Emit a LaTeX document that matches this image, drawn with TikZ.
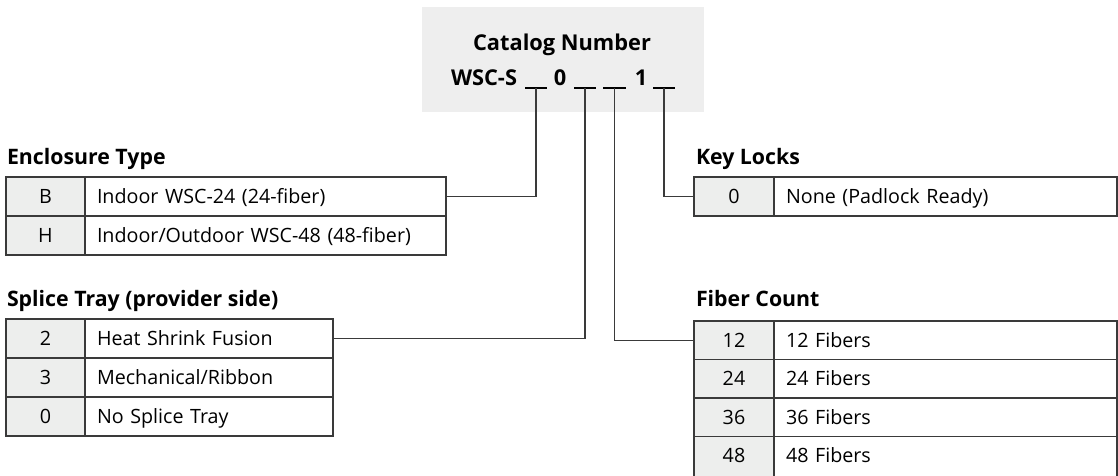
\documentclass[tikz,border=0pt]{standalone}
\usepackage{fontspec}
\setmainfont{Open Sans}
\definecolor{linecol}{HTML}{3A3A3A}
\definecolor{keyfill}{HTML}{EDEEED}
\definecolor{boxfill}{HTML}{EEEEEE}
\begin{document}
\begin{tikzpicture}[x=1pt,y=-1pt,
  every node/.style={inner sep=0pt, outer sep=0pt, font=\fontsize{19.7}{22}\selectfont},
  cell/.style={draw=linecol, line width=1.3pt, anchor=north west, minimum height=39pt,
    text height=14pt, text depth=0pt},
  keycell/.style={cell, fill=keyfill, minimum width=79pt, align=center},
  desccell/.style={cell, fill=white, inner xsep=12pt, align=left},
  ttl/.style={anchor=base west, font=\fontsize{21.3}{24}\selectfont\bfseries},
  catbox/.style={fill=boxfill, minimum width=282pt, minimum height=105pt},
  boldtxt/.style={font=\fontsize{21.8}{24}\selectfont\bfseries},
  conn/.style={draw=linecol, line width=1.3pt},
  uline/.style={draw=black, line width=1.3pt}
]
\useasboundingbox (0,0) rectangle (1118,475);

% catalog number box
\node[catbox] (cat) at (563,59.5) {};
\node[boldtxt, anchor=base] (catT) at (562,50) {Catalog Number};
\node[boldtxt, anchor=base east] (wsc) at (517,85) {WSC-S};
\node[boldtxt, anchor=base] (z0) at (560,85) {0};
\node[boldtxt, anchor=base] (z1) at (641,85) {1};
\coordinate (b1) at (536,88);
\coordinate (b2) at (585,88);
\coordinate (b3) at (614.5,88);
\coordinate (b4) at (664,88);
\draw[uline] (525,88) -- (547,88);
\draw[uline] (574,88) -- (596,88);
\draw[uline] (603,88) -- (626,88);
\draw[uline] (653,88) -- (675,88);

% Enclosure Type
\node[ttl] (tEnc) at (7,164) {Enclosure Type};
\node[keycell] (eB) at (6,177) {B};
\node[desccell, minimum width=361pt, text width=337pt] (eBd) at (85,177) {Indoor WSC-24 (24-fiber)};
\node[keycell] (eH) at (6,216) {H};
\node[desccell, minimum width=361pt, text width=337pt] (eHd) at (85,216) {Indoor/Outdoor WSC-48 (48-fiber)};

% Splice Tray
\node[ttl] (tSpl) at (7,306) {Splice Tray (provider side)};
\node[keycell] (s2) at (6,319) {2};
\node[desccell, minimum width=248pt, text width=224pt] (s2d) at (85,319) {Heat Shrink Fusion};
\node[keycell] (s3) at (6,358) {3};
\node[desccell, minimum width=248pt, text width=224pt] (s3d) at (85,358) {Mechanical/Ribbon};
\node[keycell] (s0) at (6,397) {0};
\node[desccell, minimum width=248pt, text width=224pt] (s0d) at (85,397) {No Splice Tray};

% Key Locks
\node[ttl] (tKey) at (696,164) {Key Locks};
\node[keycell, minimum width=80pt] (k0) at (694,177) {0};
\node[desccell, minimum width=343pt, text width=319pt] (k0d) at (774,177) {None (Padlock Ready)};

% Fiber Count
\node[ttl] (tFib) at (696,306) {Fiber Count};
\node[keycell, minimum width=80pt, minimum height=38.5pt] (f12) at (694,321) {12};
\node[desccell, minimum width=343pt, minimum height=38.5pt, text width=319pt] (f12d) at (774,321) {12 Fibers};
\node[keycell, minimum width=80pt, minimum height=38.5pt] (f24) at (694,359.5) {24};
\node[desccell, minimum width=343pt, minimum height=38.5pt, text width=319pt] (f24d) at (774,359.5) {24 Fibers};
\node[keycell, minimum width=80pt, minimum height=38.5pt] (f36) at (694,398) {36};
\node[desccell, minimum width=343pt, minimum height=38.5pt, text width=319pt] (f36d) at (774,398) {36 Fibers};
\node[keycell, minimum width=80pt, minimum height=41pt, text height=11.5pt] (f48) at (694,436.5) {48};
\node[desccell, minimum width=343pt, minimum height=41pt, text height=11.5pt, text width=319pt] (f48d) at (774,436.5) {48 Fibers};

% connectors
\draw[conn] (b1) |- (eBd.east);
\draw[conn] (b2) |- (s2d.east);
\draw[conn] (b3) |- (f12.west);
\draw[conn] (b4) |- (k0.west);
\end{tikzpicture}
\end{document}
